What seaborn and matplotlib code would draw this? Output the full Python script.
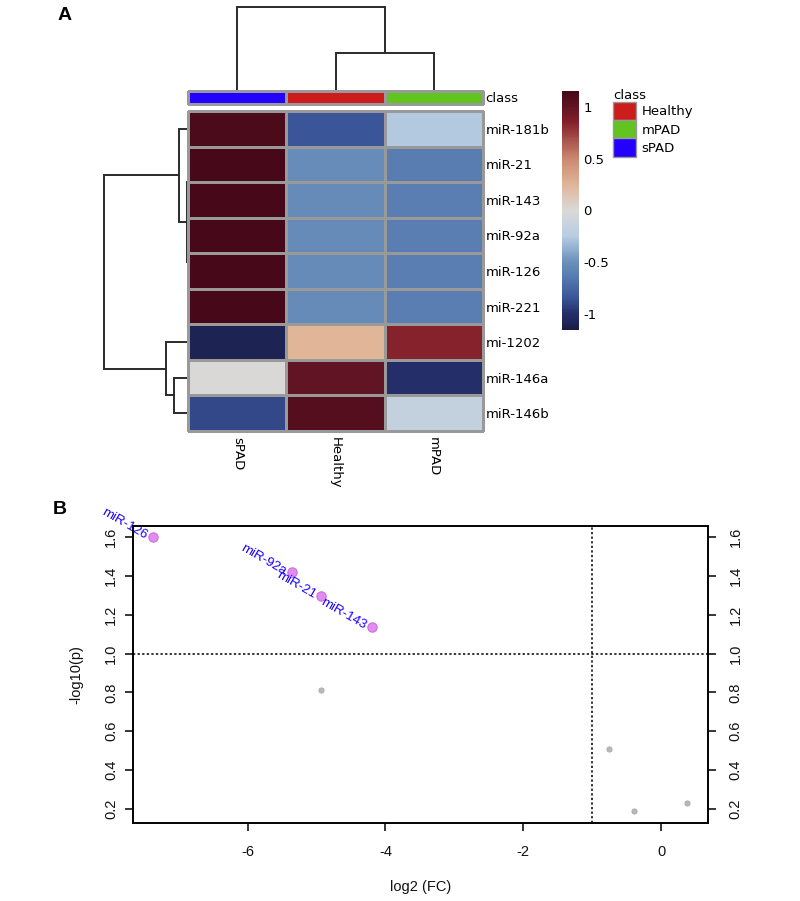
import numpy as np
import pandas as pd
import seaborn as sns
import matplotlib.pyplot as plt
from matplotlib.colors import LinearSegmentedColormap, ListedColormap
from matplotlib.patches import Patch

# ---- panel A: row-scaled expression ----
genes = ["miR-181b", "miR-21", "miR-143", "miR-92a", "miR-126",
         "miR-221", "mi-1202", "miR-146a", "miR-146b"]
groups = ["sPAD", "Healthy", "mPAD"]
spad = [1.12, 1.15, 1.15, 1.15, 1.15, 1.15, -1.10, 0.00, -0.90]
healthy = [-0.85, -0.52, -0.53, -0.53, -0.53, -0.53, 0.25, 1.00, 1.07]
mpad = [-0.27, -0.63, -0.62, -0.62, -0.62, -0.62, 0.85, -1.00, -0.17]
legend_order = ["Healthy", "mPAD", "sPAD"]
group_colors = {"Healthy": "#cc1c1c", "mPAD": "#62c41e", "sPAD": "#2400ff"}
cbar_ticks = [-1, -0.5, 0, 0.5, 1]

# dendrogram merges (left, right, height), leaves in plotted order
col_links = [(1, 2, 0.445), (0, 3, 1.0)]
row_links = [(4, 5, 0.004), (3, 9, 0.008), (1, 2, 0.005), (11, 10, 0.015),
             (0, 12, 0.107), (7, 8, 0.167), (6, 14, 0.262), (13, 15, 1.0)]

# ---- panel B: volcano ----
sig_names = ["miR-126", "miR-92a", "miR-21", "miR-143"]
sig_fc = [-7.37, -5.36, -4.93, -4.19]
sig_p = [1.600, 1.418, 1.295, 1.138]
ns_fc = [-4.93, -0.75, -0.40, 0.37]
ns_p = [0.812, 0.510, 0.190, 0.230]
fc_thresh = -1.0
p_thresh = 1.0

sns.set_style("ticks")
plt.rcParams["font.family"] = ["Liberation Sans", "DejaVu Sans"]
plt.rcParams["axes.unicode_minus"] = False
plt.rcParams["text.color"] = "black"
plt.rcParams["axes.labelcolor"] = "black"
plt.rcParams["xtick.color"] = "black"
plt.rcParams["ytick.color"] = "black"

hm_font = {"family": "DejaVu Sans", "size": 9.5}
grid_col = "#999999"

# colour ramp taken from the colour key
cmap = LinearSegmentedColormap.from_list("key", [
    (0.000, "#1a1c46"), (0.069, "#24306a"), (0.134, "#3a5699"),
    (0.241, "#5d82b5"), (0.284, "#6a8fbb"), (0.392, "#b8cde3"),
    (0.500, "#dad9d8"), (0.608, "#e0b598"), (0.716, "#cc8870"),
    (0.866, "#86222b"), (0.931, "#621423"), (1.000, "#450818")])


def draw_dendro(ax, links, n, horizontal=False):
    pos = [i + 0.5 for i in range(n)]
    hgt = [0.0] * n
    for a, b, h in links:
        xs = [pos[a], pos[a], pos[b], pos[b]]
        ys = [hgt[a], h, h, hgt[b]]
        if horizontal:
            xs, ys = ys, xs
        ax.plot(xs, ys, color="#2b2b2b", lw=1.4, clip_on=False,
                solid_joinstyle="miter")
        pos.append((pos[a] + pos[b]) / 2)
        hgt.append(h)


fig = plt.figure(figsize=(8, 9.01), dpi=100)

# column dendrogram
ax_col = fig.add_axes([0.2354, 0.8993, 0.368, 0.0932])
draw_dendro(ax_col, col_links, len(groups))
ax_col.set_xlim(0, len(groups))
ax_col.set_ylim(0, 1)
ax_col.axis("off")

# row dendrogram
ax_row = fig.add_axes([0.13, 0.5216, 0.1054, 0.3552])
draw_dendro(ax_row, row_links, len(genes), horizontal=True)
ax_row.set_ylim(len(genes), 0)
ax_row.set_xlim(1, 0)
ax_row.axis("off")

# class bar
ax_cls = fig.add_axes([0.2354, 0.8846, 0.368, 0.01476])
codes = np.array([[groups.index(g) for g in groups]])
sns.heatmap(codes, ax=ax_cls, cmap=ListedColormap([group_colors[g] for g in groups]),
            vmin=0, vmax=len(groups) - 1, cbar=False, linewidths=0.8,
            linecolor=grid_col, xticklabels=False, yticklabels=["class"])
ax_cls.collections[0].set_clip_on(False)
ax_cls.yaxis.tick_right()
ax_cls.tick_params(axis="y", length=0, pad=2, rotation=0)
for t in ax_cls.get_yticklabels():
    t.set_fontfamily("DejaVu Sans")
    t.set_fontsize(9.5)

# heatmap + colour key
df = pd.DataFrame({"sPAD": spad, "Healthy": healthy, "mPAD": mpad}, index=genes)[groups]
ax_hm = fig.add_axes([0.2354, 0.5216, 0.368, 0.3552])
cax = fig.add_axes([0.7021, 0.6337, 0.0216, 0.2656])
sns.heatmap(df, ax=ax_hm, cmap=cmap, vmin=-1.16, vmax=1.16, linewidths=0.8,
            linecolor=grid_col, cbar_ax=cax, cbar_kws={"ticks": cbar_ticks})
ax_hm.collections[0].set_clip_on(False)
ax_hm.yaxis.tick_right()
ax_hm.tick_params(axis="y", length=0, pad=2, rotation=0)
ax_hm.tick_params(axis="x", length=0, pad=4)
ax_hm.set_xlabel("")
ax_hm.set_ylabel("")
for t in ax_hm.get_xticklabels():
    t.set_rotation(270)
    t.set_ha("center")
    t.set_va("top")
for t in ax_hm.get_xticklabels() + ax_hm.get_yticklabels():
    t.set_fontfamily("DejaVu Sans")
    t.set_fontsize(9.5)

cbar = ax_hm.collections[0].colorbar
cbar.outline.set_visible(False)
cax.set_yticklabels([f"{v:g}" for v in cbar_ticks])
cax.tick_params(length=0, pad=3)
for t in cax.get_yticklabels():
    t.set_fontfamily("DejaVu Sans")
    t.set_fontsize(9.5)

fig.legend(handles=[Patch(facecolor=group_colors[g], edgecolor=grid_col, label=g)
                    for g in legend_order],
           title="class", loc="upper left", bbox_to_anchor=(613 / 800, 1 - 89 / 901),
           frameon=False, handlelength=1.75, handleheight=1.75, handletextpad=0.4,
           labelspacing=0, borderpad=0, borderaxespad=0, alignment="left",
           prop=hm_font, title_fontproperties=hm_font)

# ---- panel B ----
vdf = pd.DataFrame({"fc": sig_fc + ns_fc, "p": sig_p + ns_p,
                    "sig": ["yes"] * len(sig_fc) + ["no"] * len(ns_fc)})
ax_b = fig.add_axes([0.1666, 0.0866, 0.7184, 0.3296])
sns.scatterplot(data=vdf[vdf.sig == "no"], x="fc", y="p", ax=ax_b,
                color="#b9b9b9", edgecolor="#a6a6a6", s=14, linewidth=0.6,
                legend=False, zorder=3)
sns.scatterplot(data=vdf[vdf.sig == "yes"], x="fc", y="p", ax=ax_b,
                color="#e28cf2", edgecolor="#cf6fe0", s=45, linewidth=0.8,
                legend=False, zorder=3)
for name, x, y in zip(sig_names, sig_fc, sig_p):
    ax_b.annotate(name, (x, y), xytext=(-5, 0), textcoords="offset points",
                  rotation=-30, rotation_mode="anchor", ha="right", va="center",
                  color="#1a00ff", fontsize=9.5, annotation_clip=False)

ax_b.axhline(p_thresh, color="black", lw=1.1, ls=(0, (1.5, 1.5)), zorder=1)
ax_b.axvline(fc_thresh, color="black", lw=1.1, ls=(0, (1.5, 1.5)), zorder=1)

ax_b.set_xlim(-7.66, 0.68)
ax_b.set_ylim(0.128, 1.657)
yt = [0.2, 0.4, 0.6, 0.8, 1.0, 1.2, 1.4, 1.6]
ax_b.set_xticks([-6, -4, -2, 0])
ax_b.set_xticklabels(["-6", "-4", "-2", "0"])
ax_b.set_yticks(yt)
ax_b.set_yticklabels([f"{v:.1f}" for v in yt], rotation=90, va="center")
ax_b.tick_params(axis="both", length=6, width=1.1, color="black",
                 labelsize=10.5, labelcolor="#111111")
ax_b.tick_params(axis="x", pad=10)
ax_b.tick_params(axis="y", pad=5)
ax_b.set_xlabel("log2 (FC)", fontsize=10.5, labelpad=15, color="#111111")
ax_b.set_ylabel("-log10(p)", fontsize=10.5, labelpad=15, color="#111111")
for s in ax_b.spines.values():
    s.set_linewidth(1.2)
    s.set_color("black")

ax_r = ax_b.twinx()
ax_r.set_ylim(ax_b.get_ylim())
ax_r.set_yticks(yt)
ax_r.set_yticklabels([f"{v:.1f}" for v in yt], rotation=90, va="center")
ax_r.tick_params(axis="y", length=6, width=1.1, color="black", labelsize=10.5,
                 labelcolor="#111111", pad=9)
for s in ax_r.spines.values():
    s.set_linewidth(1.2)
    s.set_color("black")

fig.text(65 / 800, 1 - 15 / 901, "A", fontsize=14, fontweight="bold",
         ha="center", va="center", color="black")
fig.text(60 / 800, 1 - 510 / 901, "B", fontsize=14, fontweight="bold",
         ha="center", va="center", color="black")

fig.savefig("out.png", dpi=100)
